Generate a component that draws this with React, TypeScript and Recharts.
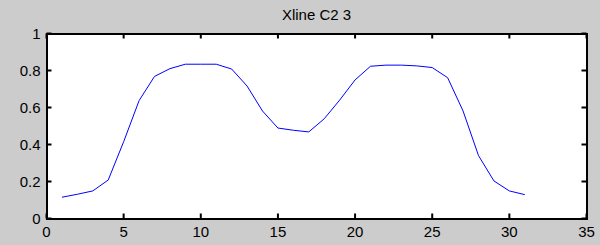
import { Line, LineChart, XAxis, YAxis } from "recharts";

const title = "Xline C2 3";

const xs = [1, 2, 3, 4, 5, 6, 7, 8, 9, 10, 11, 12, 13, 14, 15, 16, 17, 18, 19, 20, 21, 22, 23, 24, 25, 26, 27, 28, 29, 30, 31];
const amplitude = [
    0.115, 0.131, 0.149, 0.208, 0.415, 0.637, 0.768, 0.81, 0.834, 0.834, 0.834,
    0.808, 0.716, 0.581, 0.489, 0.477, 0.468, 0.539, 0.64, 0.749, 0.823, 0.829,
    0.829, 0.825, 0.816, 0.761, 0.581, 0.34, 0.203, 0.149, 0.129,
];

const xTicks = [0, 5, 10, 15, 20, 25, 30, 35];
const yTicks = [0, 0.2, 0.4, 0.6, 0.8, 1];

const data = xs.map((x, i) => ({ x, value: amplitude[i] }));

const font = "'Liberation Sans', Arial, Helvetica, sans-serif";
const W = 600;
const H = 245;
const TICK = 5;

// plot box, in px (chart margins are derived from it)
const plot = { left: 46.5, top: 33.5, right: 13.5, bottom: 26.5 };
const plotRight = W - plot.right;
const plotBottom = H - plot.bottom;

// MATLAB style: ticks point inwards, on all four sides
function XTick(props: any) {
    const { x, y, payload } = props;
    return (
        <g>
            <rect x={x - 1} y={plotBottom - TICK} width={2} height={TICK} fill="#000" />
            <rect x={x - 1} y={plot.top} width={2} height={TICK} fill="#000" />
            <text x={x} y={y} dy="0.71em" textAnchor="middle" fill="#000" fontSize={15} fontFamily={font}>
                {payload.value}
            </text>
        </g>
    );
}

function YTick(props: any) {
    const { x, y, payload } = props;
    return (
        <g>
            <rect x={plot.left} y={y - 1} width={TICK} height={2} fill="#000" />
            <rect x={plotRight - TICK} y={y - 1} width={TICK} height={2} fill="#000" />
            <text x={x} y={y} dy="0.355em" textAnchor="end" fill="#000" fontSize={15} fontFamily={font}>
                {payload.value}
            </text>
        </g>
    );
}

export default function App() {
    return (
        <div
            style={{
                position: "fixed",
                top: 0,
                left: 0,
                width: W,
                height: H,
                background: "#cccccc",
                fontFamily: font,
            }}
        >
            <div
                style={{
                    position: "absolute",
                    left: plot.left - 1,
                    top: plot.top - 1,
                    width: plotRight - plot.left + 2,
                    height: plotBottom - plot.top + 2,
                    boxSizing: "border-box",
                    border: "2px solid #000",
                    background: "#ffffff",
                }}
            />
            <div
                style={{
                    position: "absolute",
                    top: 7.3,
                    left: 216.5,
                    width: 200,
                    textAlign: "center",
                    fontSize: 15,
                    lineHeight: 1,
                    color: "#000",
                }}
            >
                {title}
            </div>
            <div style={{ position: "absolute", top: 0, left: 0 }}>
                <LineChart
                    width={W}
                    height={H}
                    data={data}
                    margin={{ top: plot.top, right: plot.right, bottom: 0, left: 0 }}
                >
                    <XAxis
                        dataKey="x"
                        type="number"
                        domain={[0, 35]}
                        ticks={xTicks}
                        height={plot.bottom}
                        axisLine={false}
                        tickLine={false}
                        tickSize={0}
                        tickMargin={7.5}
                        tick={XTick}
                        interval={0}
                    />
                    <YAxis
                        type="number"
                        domain={[0, 1]}
                        ticks={yTicks}
                        width={plot.left}
                        axisLine={false}
                        tickLine={false}
                        tickSize={0}
                        tickMargin={6}
                        tick={YTick}
                        interval={0}
                    />
                    <Line
                        type="linear"
                        dataKey="value"
                        stroke="#0000ff"
                        strokeWidth={1}
                        dot={false}
                        isAnimationActive={false}
                    />
                </LineChart>
            </div>
        </div>
    );
}
